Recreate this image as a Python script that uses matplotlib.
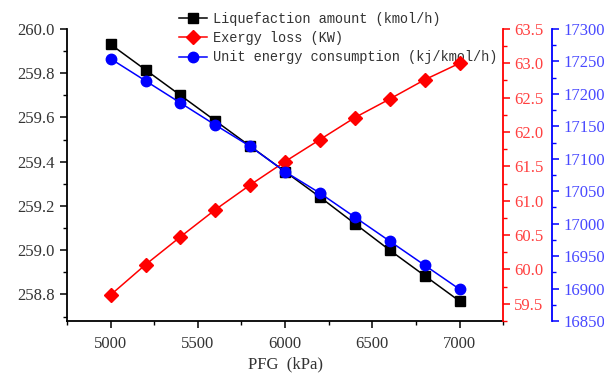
import matplotlib.pyplot as plt
from matplotlib.ticker import MultipleLocator, AutoMinorLocator

plt.rcParams['font.family'] = ['Liberation Serif', 'DejaVu Serif']
plt.rcParams['font.size'] = 12

# PFG pressure sweep and the three responses
pfg = [5000, 5200, 5400, 5600, 5800, 6000, 6200, 6400, 6600, 6800, 7000]
liquefaction = [259.93, 259.815, 259.70, 259.585, 259.47, 259.355, 259.24, 259.12, 259.00, 258.885, 258.77]
exergy_loss = [59.63, 60.07, 60.475, 60.87, 61.23, 61.57, 61.89, 62.21, 62.48, 62.76, 63.00]
unit_energy = [17254, 17220, 17186, 17152, 17119, 17080, 17047, 17010, 16973, 16936, 16899]

red_lbl = '#ff4040'
blue_lbl = '#4848ff'

fig = plt.figure(figsize=(6.04, 3.74), dpi=100)
ax = fig.add_axes([0.111, 0.1417, 0.722, 0.781])
ax2 = ax.twinx()
ax3 = ax.twinx()
# third axis sits 49 px right of the red one (72/100 pt per px)
ax3.spines['right'].set_position(('outward', 49 * 0.72))

l1, = ax.plot(pfg, liquefaction, color='black', marker='s', ms=6.5, lw=1.1,
              label='Liquefaction amount (kmol/h)')
l2, = ax2.plot(pfg, exergy_loss, color='red', marker='D', ms=7, lw=1.1,
               label='Exergy loss (KW)')
l3, = ax3.plot(pfg, unit_energy, color='blue', marker='o', ms=7.5, lw=1.1,
               label='Unit energy consumption (kj/kmol/h)')

ax.set_xlim(4750, 7250)
ax.set_ylim(258.68, 260.0)
ax2.set_ylim(59.25, 63.5)
ax3.set_ylim(16850, 17300)

ax.xaxis.set_major_locator(MultipleLocator(500))
ax.xaxis.set_minor_locator(AutoMinorLocator(2))
ax.yaxis.set_major_locator(MultipleLocator(0.2))
ax.yaxis.set_minor_locator(AutoMinorLocator(2))
ax.yaxis.set_major_formatter(lambda v, p: f'{v:.1f}')
ax2.yaxis.set_major_locator(MultipleLocator(0.5))
ax2.yaxis.set_minor_locator(AutoMinorLocator(2))
ax2.yaxis.set_major_formatter(lambda v, p: f'{v:.1f}')
ax3.yaxis.set_major_locator(MultipleLocator(50))
ax3.yaxis.set_minor_locator(AutoMinorLocator(2))

for a in (ax, ax2, ax3):
    a.spines['top'].set_visible(False)
    a.tick_params(which='major', direction='out', length=5, width=1.1, pad=3)
    a.tick_params(which='minor', direction='out', length=3, width=1.0)

ax.spines['right'].set_visible(False)
ax.spines['left'].set_linewidth(1.3)
ax.spines['bottom'].set_linewidth(1.3)
ax.tick_params(axis='both', labelcolor='#333333')
ax.tick_params(axis='y', pad=4)
ax.tick_params(axis='x', pad=6)

ax2.spines['left'].set_visible(False)
ax2.spines['bottom'].set_visible(False)
ax2.spines['right'].set_color('red')
ax2.spines['right'].set_linewidth(1.3)
ax2.tick_params(axis='y', which='both', colors='red', labelcolor=red_lbl)

ax3.spines['left'].set_visible(False)
ax3.spines['bottom'].set_visible(False)
ax3.spines['right'].set_color('blue')
ax3.spines['right'].set_linewidth(1.3)
ax3.tick_params(axis='y', which='both', colors='blue', labelcolor=blue_lbl)

ax.set_xlabel('PFG  (kPa)', color='#333333', labelpad=3)

leg = ax.legend(handles=[l1, l2, l3], loc='upper left', bbox_to_anchor=(0.245, 1.078),
                frameon=False, prop={'family': 'Liberation Mono', 'size': 9.8},
                handlelength=2.0, handletextpad=0.5, labelspacing=0.4, borderaxespad=0)
for t in leg.get_texts():
    t.set_color('#333333')

fig.savefig('out.png', dpi=100)
